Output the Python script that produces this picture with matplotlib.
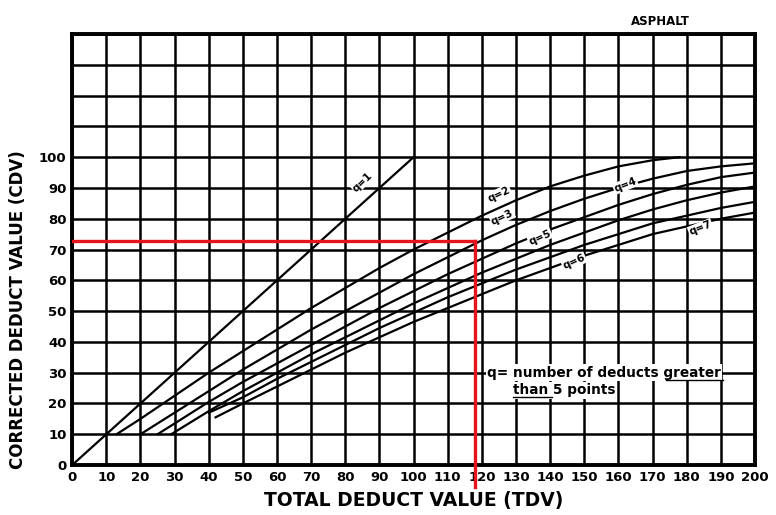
import matplotlib
matplotlib.use("Agg")
import matplotlib.pyplot as plt

# corrected deduct value curves
tdv_q1 = [0, 100]
cdv_q1 = [0, 100]

tdv_q2 = [13, 20, 30, 40, 50, 60, 70, 80, 90, 100, 110, 120, 130, 140, 150, 160, 170, 178]
cdv_q2 = [10, 15, 22.5, 30, 37, 44, 51, 57.5, 64, 70, 75.5, 81, 86, 90.5, 94, 97, 99, 100]

tdv_q3 = [20, 30, 40, 50, 60, 70, 80, 90, 100, 110, 120, 130, 140, 150, 160, 170, 180, 190, 200]
cdv_q3 = [10, 17, 24, 31, 37.5, 44, 50, 56, 62, 67.5, 73, 78, 82.5, 86.5, 90, 93, 95.5, 97, 98]

tdv_q4 = [25, 30, 40, 50, 60, 70, 80, 90, 100, 110, 120, 130, 140, 150, 160, 170, 180, 190, 200]
cdv_q4 = [10, 13.5, 20.5, 27, 33, 39, 45, 51, 56.5, 62, 67, 72, 76.5, 80.5, 84.5, 88, 91, 93.5, 95]

tdv_q5 = [29, 40, 50, 60, 70, 80, 90, 100, 110, 120, 130, 140, 150, 160, 170, 180, 190, 200]
cdv_q5 = [10, 17.5, 24, 30, 36, 41.5, 47, 52.5, 57.5, 62.5, 67, 71.5, 75.5, 79.5, 83, 86, 88.5, 90.5]

tdv_q6 = [40, 50, 60, 70, 80, 90, 100, 110, 120, 130, 140, 150, 160, 170, 180, 190, 200]
cdv_q6 = [17, 22, 28, 33.5, 39, 44.5, 49.5, 54.5, 59, 63.5, 67.5, 71.5, 75, 78.5, 81, 83.5, 85.5]

tdv_q7 = [42, 50, 60, 70, 80, 90, 100, 110, 120, 130, 140, 150, 160, 170, 180, 190, 200]
cdv_q7 = [15.5, 20, 25.5, 31, 36.5, 41.5, 46.5, 51, 55.5, 60, 64, 68, 71.5, 75, 77.5, 80, 82]

x_ticks = list(range(0, 201, 10))
y_ticks = list(range(0, 101, 10))

# worked example marked in red
example_tdv = 118
example_cdv = 72.7

fig = plt.figure(figsize=(7.76, 5.15), dpi=100)
ax = fig.add_axes([0.093, 0.097, 0.880, 0.837])
ax.set_xlim(0, 200)
ax.set_ylim(0, 140)

# heavy grid like the printed chart
for x in x_ticks:
    ax.axvline(x, color="black", lw=1.8, zorder=1)
for y in range(0, 141, 10):
    ax.axhline(y, color="black", lw=1.8, zorder=1)
for s in ax.spines.values():
    s.set_linewidth(2.8)

ax.set_xticks(x_ticks)
ax.set_yticks(y_ticks)
ax.tick_params(length=0, labelsize=9.5, pad=4)
for lbl in ax.get_xticklabels() + ax.get_yticklabels():
    lbl.set_fontweight("bold")

curves = [(tdv_q1, cdv_q1), (tdv_q2, cdv_q2), (tdv_q3, cdv_q3), (tdv_q4, cdv_q4),
          (tdv_q5, cdv_q5), (tdv_q6, cdv_q6), (tdv_q7, cdv_q7)]
for xs, ys in curves:
    ax.plot(xs, ys, color="black", lw=1.6, zorder=2)

# curve labels
lab = dict(fontsize=7.5, fontweight="bold", ha="center", va="center", zorder=4,
           bbox=dict(facecolor="white", edgecolor="none", pad=0.5))
ax.text(85, 92, "q=1", rotation=44, **lab)
ax.text(125, 88, "q=2", rotation=25, **lab)
ax.text(126, 80.5, "q=3", rotation=25, **lab)
ax.text(162, 91, "q=4", rotation=22, **lab)
ax.text(137, 74, "q=5", rotation=24, **lab)
ax.text(147, 66, "q=6", rotation=24, **lab)
ax.text(184, 77, "q=7", rotation=22, **lab)

# note (white boxes hide the grid behind it, as on the print)
note = dict(fontsize=9.8, fontweight="bold", va="center", ha="left", zorder=4,
            bbox=dict(facecolor="white", edgecolor="none", pad=1.0))
ax.text(121.5, 30, "q= number of deducts greater", **note)
ax.text(129, 24.3, "than 5 points", **note)
ax.plot([174, 190.5], [27.5, 27.5], color="black", lw=1, zorder=5)
ax.plot([129, 140.5], [22.0, 22.0], color="black", lw=1, zorder=5)

# red construction lines
ax.plot([0, example_tdv], [example_cdv, example_cdv], color="#e8141c", lw=2.4, zorder=3)
ax.plot([example_tdv, example_tdv], [example_cdv, -7], color="#e8141c", lw=2.4,
        zorder=3, clip_on=False)

ax.set_xlabel("TOTAL DEDUCT VALUE (TDV)", fontsize=13.5, fontweight="bold", labelpad=5)
ax.set_ylabel("CORRECTED DEDUCT VALUE (CDV)", fontsize=12, fontweight="bold", labelpad=6)
ax.yaxis.set_label_coords(-0.066, 0.36)
ax.text(0.861, 1.03, "ASPHALT", transform=ax.transAxes, fontsize=8.5, fontweight="bold",
        ha="center", va="center")

fig.savefig("out.png", dpi=100)
